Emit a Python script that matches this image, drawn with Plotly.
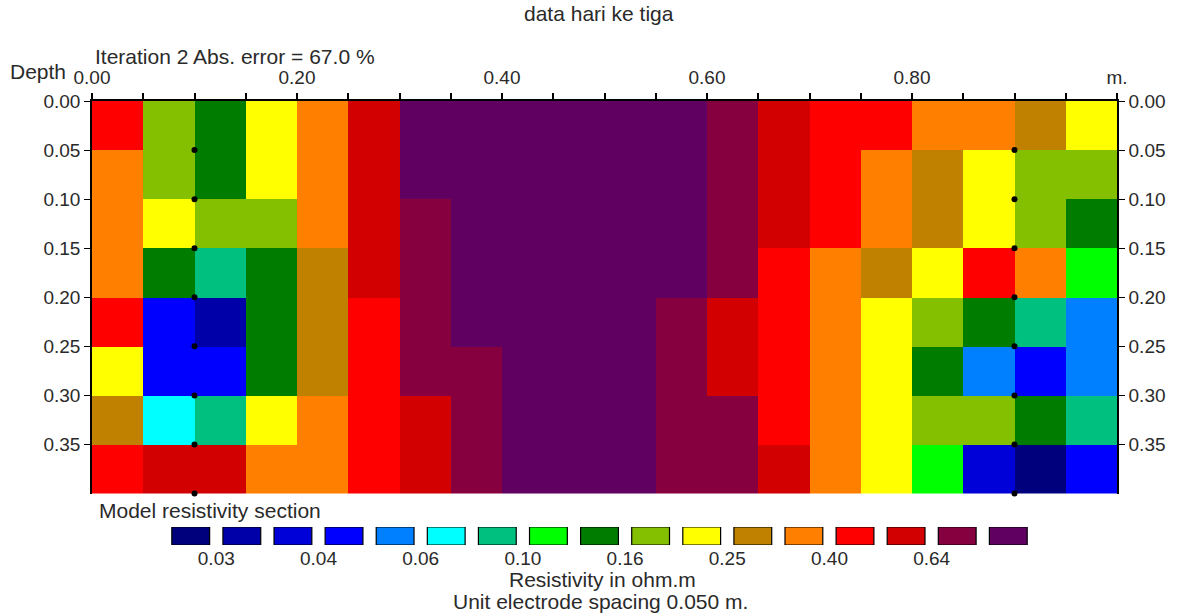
import numpy as np
import plotly.graph_objects as go

# ---------------- data ----------------
title_text = "data hari ke tiga"
subtitle_text = "Iteration 2 Abs. error = 67.0 %"

x_edges_step = 0.05          # unit electrode spacing (m)
n_cols = 20
depth_ticks = [0.00, 0.05, 0.10, 0.15, 0.20, 0.25, 0.30, 0.35]
depth_bottom = 0.40
x_tick_labels = {0.0: "0.00", 0.2: "0.20", 0.4: "0.40", 0.6: "0.60", 0.8: "0.80", 1.0: "m."}

# model resistivity (ohm.m), one list per depth layer (0.00-0.05 ... 0.35-0.40)
row_0 = [0.45, 0.18, 0.14, 0.22, 0.36, 0.57, 0.90, 0.90, 0.90, 0.90, 0.90, 0.90, 0.72, 0.57, 0.45, 0.45, 0.36, 0.36, 0.28, 0.22]
row_1 = [0.36, 0.18, 0.14, 0.22, 0.36, 0.57, 0.90, 0.90, 0.90, 0.90, 0.90, 0.90, 0.72, 0.57, 0.45, 0.36, 0.28, 0.22, 0.18, 0.18]
row_2 = [0.36, 0.22, 0.18, 0.18, 0.36, 0.57, 0.72, 0.90, 0.90, 0.90, 0.90, 0.90, 0.72, 0.57, 0.45, 0.36, 0.28, 0.22, 0.18, 0.14]
row_3 = [0.36, 0.14, 0.09, 0.14, 0.28, 0.57, 0.72, 0.90, 0.90, 0.90, 0.90, 0.90, 0.72, 0.45, 0.36, 0.28, 0.22, 0.45, 0.36, 0.11]
row_4 = [0.45, 0.045, 0.032, 0.14, 0.28, 0.45, 0.72, 0.90, 0.90, 0.90, 0.90, 0.72, 0.57, 0.45, 0.36, 0.22, 0.18, 0.14, 0.09, 0.055]
row_5 = [0.22, 0.045, 0.045, 0.14, 0.28, 0.45, 0.72, 0.72, 0.90, 0.90, 0.90, 0.72, 0.57, 0.45, 0.36, 0.22, 0.14, 0.055, 0.045, 0.055]
row_6 = [0.28, 0.07, 0.09, 0.22, 0.36, 0.45, 0.57, 0.72, 0.90, 0.90, 0.90, 0.72, 0.72, 0.45, 0.36, 0.22, 0.18, 0.18, 0.14, 0.09]
row_7 = [0.45, 0.57, 0.57, 0.36, 0.36, 0.45, 0.57, 0.72, 0.90, 0.90, 0.90, 0.72, 0.72, 0.57, 0.36, 0.22, 0.11, 0.037, 0.027, 0.045]

# colour classes of the contour legend (class edges in ohm.m)
class_edges = [0.025, 0.03, 0.035, 0.04, 0.05, 0.06, 0.08, 0.10, 0.125, 0.16,
               0.20, 0.25, 0.32, 0.40, 0.50, 0.64, 0.80, 1.00]
class_colors = ["#00007c", "#0000a8", "#0000d8", "#0000ff", "#0080ff", "#00ffff",
                "#00c080", "#00ff00", "#007c00", "#84c000", "#ffff00", "#c08000",
                "#ff8000", "#ff0000", "#d20000", "#860040", "#600060"]
legend_labels = ["0.03", "0.04", "0.06", "0.10", "0.16", "0.25", "0.40", "0.64"]

# datum points drawn on the section
dot_x = [0.10, 0.90]
dot_depths = [0.05, 0.10, 0.15, 0.20, 0.25, 0.30, 0.35, 0.40]

# ---------------- figure ----------------
W, H = 1178, 614
ML, MR, MT, MB = 92, 58, 101, 66
PW, PH = W - ML - MR, H - MT - MB


def px(x):
    return (x - ML) / PW


def py(y):
    return (H - MB - y) / PH


FONT = "Liberation Sans, Arial, sans-serif"
TXT = "#2a2a2a"
FS = 19      # tick labels
FA = 21      # free texts

rows = [row_0, row_1, row_2, row_3, row_4, row_5, row_6, row_7]
z = np.log10(np.array(rows))
x_centers = [x_edges_step * (i + 0.5) for i in range(n_cols)]
y_centers = [d + x_edges_step / 2 for d in depth_ticks]

lo, hi = np.log10(class_edges[0]), np.log10(class_edges[-1])
cscale = []
for k, col in enumerate(class_colors):
    a = (np.log10(class_edges[k]) - lo) / (hi - lo)
    b = (np.log10(class_edges[k + 1]) - lo) / (hi - lo)
    cscale.append([float(a), col])
    cscale.append([float(b), col])
cscale[0][0] = 0.0
cscale[-1][0] = 1.0

fig = go.Figure()
fig.add_trace(go.Heatmap(
    x=x_centers, y=y_centers, z=z, zmin=lo, zmax=hi,
    colorscale=cscale, showscale=False, hoverinfo="skip",
    xaxis="x", yaxis="y"))

dx, dy = [], []
for xv in dot_x:
    for d in dot_depths:
        dx.append(xv)
        dy.append(d)
fig.add_trace(go.Scatter(
    x=dx, y=dy, mode="markers", marker=dict(color="black", size=6),
    cliponaxis=False, hoverinfo="skip", showlegend=False,
    xaxis="x", yaxis="y2"))

# colour legend as outlined bars
n_cls = len(class_colors)
fig.add_trace(go.Bar(
    x=list(range(1, n_cls + 1)), y=[1] * n_cls, base=0,
    marker=dict(color=class_colors, line=dict(color="black", width=1.2)),
    width=0.74, hoverinfo="skip", showlegend=False,
    xaxis="x3", yaxis="y3"))

x_tickvals = [round(x_edges_step * i, 2) for i in range(n_cols + 1)]
x_ticktext = [x_tick_labels.get(round(v, 2), "") for v in x_tickvals]

heat_bottom = py(493.5)
yaxis_common = dict(
    range=[depth_bottom, 0.0], tickvals=depth_ticks,
    ticktext=["%.2f" % v for v in depth_ticks],
    showgrid=False, zeroline=False, showline=True, linecolor="black",
    linewidth=1.5, ticks="outside", ticklen=6, tickwidth=1.2,
    tickcolor="black", tickfont=dict(family=FONT, size=FS, color=TXT),
    domain=[heat_bottom, 1.0])

leg_tickvals = [1.5 + 2 * i for i in range(len(legend_labels))]

fig.update_layout(
    width=W, height=H,
    margin=dict(l=ML, r=MR, t=MT, b=MB),
    paper_bgcolor="white", plot_bgcolor="white",
    showlegend=False,
    font=dict(family=FONT, size=FS, color=TXT),
    xaxis=dict(side="top", range=[0, x_edges_step * n_cols], anchor="y",
               tickvals=x_tickvals, ticktext=x_ticktext,
               showgrid=False, zeroline=False, showline=True,
               linecolor="black", linewidth=1.5, ticks="outside",
               ticklen=6, tickwidth=1.5, tickcolor="black",
               ticklabelstandoff=2,
               tickfont=dict(family=FONT, size=FS, color=TXT)),
    yaxis=dict(side="left", anchor="x", **yaxis_common),
    yaxis2=dict(side="right", overlaying="y", anchor="x", **yaxis_common),
    xaxis3=dict(domain=[px(165.4), px(1036.6)], range=[0.5, n_cls + 0.5],
                anchor="y3", tickvals=leg_tickvals, ticktext=legend_labels,
                showgrid=False, zeroline=False, showline=False, ticks="",
                tickfont=dict(family=FONT, size=FS, color=TXT)),
    yaxis3=dict(domain=[py(545), py(527)], range=[0, 1], anchor="x3",
                showgrid=False, zeroline=False, showline=False,
                showticklabels=False, ticks=""),
)

ann = [
    (title_text, 600, 14, "center"),
    (subtitle_text, 93, 56, "left"),
    ("Depth", 8, 71, "left"),
    ("Model resistivity section", 97, 510, "left"),
    ("Resistivity in ohm.m", 604, 579, "center"),
    ("Unit electrode spacing 0.050 m.", 602, 601, "center"),
]
for t, x, y, anc in ann:
    fig.add_annotation(text=t, x=px(x), y=py(y), xref="paper", yref="paper",
                       xanchor=anc, yanchor="middle", showarrow=False,
                       font=dict(family=FONT, size=FA, color=TXT))

fig.write_html("out.html",
               config={"displayModeBar": False},
               post_script="document.body.style.margin='0';"
                           "document.body.style.padding='0';")
